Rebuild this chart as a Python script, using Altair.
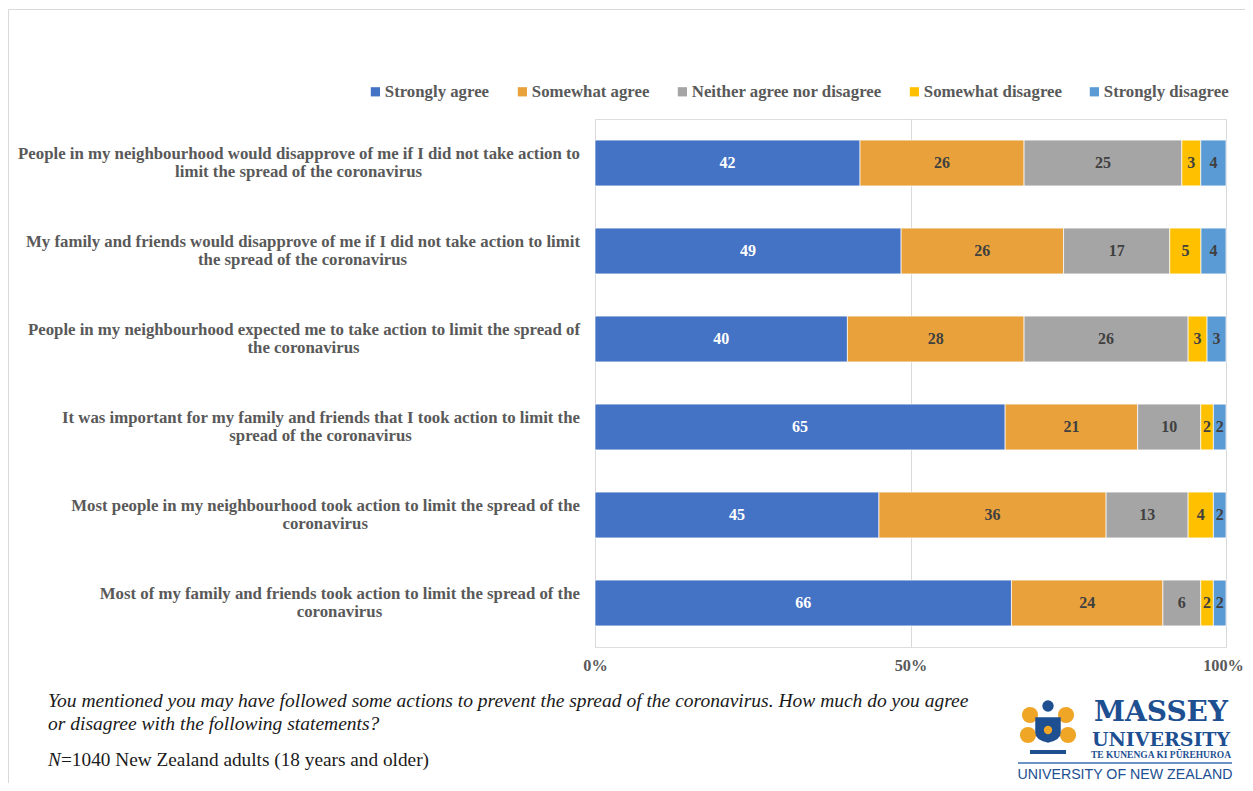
import altair as alt
import pandas as pd

# ---------------- data ----------------
questions = [
    "People in my neighbourhood would disapprove of me if I did not take action to limit the spread of the coronavirus",
    "My family and friends would disapprove of me if I did not take action to limit the spread of the coronavirus",
    "People in my neighbourhood expected me to take action to limit the spread of the coronavirus",
    "It was important for my family and friends that I took action to limit the spread of the coronavirus",
    "Most people in my neighbourhood took action to limit the spread of the coronavirus",
    "Most of my family and friends took action to limit the spread of the coronavirus",
]
label_line1 = [
    "People in my neighbourhood would disapprove of me if I did not take action to",
    "My family and friends would disapprove of me if I did not take action to limit",
    "People in my neighbourhood expected me to take action to limit the spread of",
    "It was important for my family and friends that I took action to limit the",
    "Most people in my neighbourhood took action to limit the spread of the",
    "Most of my family and friends took action to limit the spread of the",
]
label_line2 = [
    "limit the spread of the coronavirus",
    "the spread of the coronavirus",
    "the coronavirus",
    "spread of the coronavirus",
    "coronavirus",
    "coronavirus",
]
categories = ["Strongly agree", "Somewhat agree", "Neither agree nor disagree",
              "Somewhat disagree", "Strongly disagree"]
colors = ["#4472C4", "#E9A23B", "#A5A5A5", "#FFC000", "#5B9BD5"]
strongly_agree = [42, 49, 40, 65, 45, 66]
somewhat_agree = [26, 26, 28, 21, 36, 24]
neither = [25, 17, 26, 10, 13, 6]
somewhat_disagree = [3, 5, 3, 2, 4, 2]
strongly_disagree = [4, 4, 3, 2, 2, 2]
x_ticks = [0, 0.5, 1]

series = [strongly_agree, somewhat_agree, neither, somewhat_disagree, strongly_disagree]
rows = []
for ci, (cat, vals) in enumerate(zip(categories, series)):
    for q, v in zip(questions, vals):
        rows.append({"question": q, "category": cat, "order": ci, "value": v})
df = pd.DataFrame(rows)

# ---------------- layout helpers ----------------
W, H = 631, 528
LABEL_FS = 16.8
LABEL_RIGHT = -15
# Times/Liberation Serif Bold advance widths (per 1000 em) for measuring line 1
TB = dict(zip("abcdefghijklmnopqrstuvwxyz",
              [500, 556, 444, 556, 444, 333, 500, 556, 278, 333, 556, 278, 833,
               556, 500, 556, 556, 444, 389, 333, 556, 500, 722, 500, 500, 444]))
TB.update({" ": 250, "I": 389, "M": 944, "P": 611})


def text_width(s, fs):
    return sum(TB.get(ch, 500) for ch in s) / 1000.0 * fs


lab = pd.DataFrame({
    "question": questions,
    "line1": label_line1,
    "line2": label_line2,
})
lab["cx2"] = [LABEL_RIGHT - text_width(s, LABEL_FS) / 2 for s in label_line1]

FONT = "Liberation Serif"
GRAY_TXT = "#595959"

y_enc = alt.Y("question:N", sort=questions, axis=None,
              scale=alt.Scale(paddingInner=0.48, paddingOuter=0.24))

base = alt.Chart(df).transform_joinaggregate(
    total="sum(value)", groupby=["question"]
).transform_calculate(
    pct="datum.value / datum.total"
).transform_window(
    cum="sum(pct)", sort=[alt.SortField("order")], groupby=["question"], frame=[None, 0]
).transform_calculate(
    start="datum.cum - datum.pct", mid="datum.cum - datum.pct / 2"
)

bars = base.mark_bar(stroke="white", strokeWidth=0.7).encode(
    x=alt.X("start:Q", scale=alt.Scale(domain=[0, 1], nice=False),
            axis=alt.Axis(values=x_ticks, format="%", title=None, domain=False,
                          ticks=False, grid=True, gridColor="#D9D9D9", gridWidth=1,
                          labelFont=FONT, labelFontWeight="bold", labelFontSize=16.3,
                          labelColor=GRAY_TXT, labelPadding=10, labelFlush=False,
                          labelOffset={"expr": "datum.value == 1 ? -3 : 0"})),
    x2="cum:Q",
    y=y_enc,
    color=alt.Color("category:N", scale=alt.Scale(domain=categories, range=colors),
                    legend=alt.Legend(orient="none", legendX=-228, legendY=-36,
                                      direction="horizontal", title=None,
                                      symbolType="square", symbolSize=85,
                                      symbolStrokeWidth=0, labelFont=FONT,
                                      labelFontWeight="bold", labelFontSize=16.8,
                                      labelColor=GRAY_TXT, columnPadding=24,
                                      labelOffset=1, labelLimit=400)),
    order=alt.Order("order:Q"),
)

vals_text = base.mark_text(font=FONT, fontWeight="bold", fontSize=16, baseline="middle").encode(
    x=alt.X("mid:Q"),
    y=y_enc,
    text=alt.Text("value:Q"),
    color=alt.condition("datum.order == 0", alt.value("white"), alt.value("#404040")),
)

ylab1 = alt.Chart(lab).mark_text(font=FONT, fontWeight="bold", fontSize=LABEL_FS,
                                 align="right", baseline="middle", dy=-9,
                                 color=GRAY_TXT).encode(
    x=alt.value(LABEL_RIGHT), y=y_enc, text="line1:N")
ylab2 = alt.Chart(lab).mark_text(font=FONT, fontWeight="bold", fontSize=LABEL_FS,
                                 align="center", baseline="middle", dy=9,
                                 color=GRAY_TXT).encode(
    x=alt.X("cx2:Q", scale=None), y=y_enc, text="line2:N")

# ---------------- footnote ----------------
one = pd.DataFrame({"a": [0]})
OX, OY = 595, 119  # plot origin on page


def txt(s, X, Y, **kw):
    return alt.Chart(one).mark_text(text=s, align=kw.pop("align", "left"),
                                    baseline=kw.pop("baseline", "middle"), **kw).encode(
        x=alt.value(X - OX), y=alt.value(Y - OY))


FOOT_FS = 19.5
N_FS = 19.3
foot1 = txt("You mentioned you may have followed some actions to prevent the spread of the coronavirus.  How much do you agree",
            48, 701, font=FONT, fontStyle="italic", fontSize=FOOT_FS, color="#1a1a1a")
foot2 = txt("or disagree with the following statements?", 48, 724, font=FONT,
            fontStyle="italic", fontSize=FOOT_FS, color="#1a1a1a")
footN = txt("N", 48, 760, font=FONT, fontStyle="italic", fontSize=N_FS, color="#1a1a1a")
footN2 = txt("=1040 New Zealand adults (18 years and older)", 61, 760, font=FONT,
             fontSize=N_FS, color="#1a1a1a")

# ---------------- logo (approximation) ----------------
BLUE = "#1D4F91"
GOLD = "#EFA525"
massey = txt("MASSEY", 1161, 713, font="DejaVu Serif", fontWeight="bold", fontSize=28,
             color=BLUE, align="center")
univ = txt("UNIVERSITY", 1161, 739.5, font="DejaVu Serif", fontWeight="bold", fontSize=19,
           color=BLUE, align="center")
maori = txt("TE KUNENGA KI PŪREHUROA", 1161, 754.5, font=FONT, fontWeight="bold", fontSize=9.5,
            color=BLUE, align="center")
rule = alt.Chart(one).mark_rule(color="#3A6FB0", strokeWidth=1.5).encode(
    x=alt.value(1018 - OX), x2=alt.value(1232 - OX), y=alt.value(763 - OY))
unz = txt("UNIVERSITY OF NEW ZEALAND", 1125, 775, font="Liberation Sans", fontSize=14.2,
          color=BLUE, align="center")
mantle = alt.Chart(pd.DataFrame({"px": [1030 - OX, 1066 - OX, 1028 - OX, 1068 - OX],
                                 "py": [715 - OY, 715 - OY, 735 - OY, 735 - OY]})).mark_point(
    shape="circle", filled=True, color=GOLD, size=260, opacity=1).encode(
    x=alt.X("px:Q", scale=None), y=alt.Y("py:Q", scale=None))
shield = alt.Chart(one).mark_point(
    shape="M -1 -1 L 1 -1 L 1 0.2 Q 1 0.8 0 1 Q -1 0.8 -1 0.2 Z",
    filled=True, color=BLUE, size=650, opacity=1).encode(
    x=alt.value(1048 - OX), y=alt.value(730 - OY))
sun = alt.Chart(one).mark_point(shape="circle", filled=True, color=GOLD, size=70,
                                opacity=1).encode(x=alt.value(1048 - OX), y=alt.value(730 - OY))
helm = alt.Chart(one).mark_point(shape="circle", filled=True, color=BLUE, size=130,
                                 opacity=1).encode(x=alt.value(1048 - OX), y=alt.value(706 - OY))
scroll = alt.Chart(one).mark_rule(color=BLUE, strokeWidth=4).encode(
    x=alt.value(1030 - OX), x2=alt.value(1066 - OX), y=alt.value(752 - OY))

# ---------------- frame ----------------
frame = alt.Chart(one).mark_rect(fill="white", fillOpacity=0, stroke="#D9D9D9",
                                 strokeWidth=1).encode(
    x=alt.value(8.5 - 8 - (OX - 8)), x2=alt.value(1300 - OX),
    y=alt.value(9.5 - 8 - (OY - 8)), y2=alt.value(820 - OY))

chart = alt.layer(
    frame, bars, vals_text, ylab1, ylab2, foot1, foot2, footN, footN2,
    mantle, shield, sun, helm, scroll, massey, univ, maori, rule, unz,
).properties(
    width=W, height=H,
    autosize=alt.AutoSizeParams(type="none"),
    padding={"left": OX - 8, "top": OY - 8, "right": 1253 - 16 - (OX - 8) - W,
             "bottom": 791 - 16 - (OY - 8) - H},
).configure_view(stroke=None).configure(background="white")

chart.save("out.html", embed_options={"renderer": "svg", "actions": False})
